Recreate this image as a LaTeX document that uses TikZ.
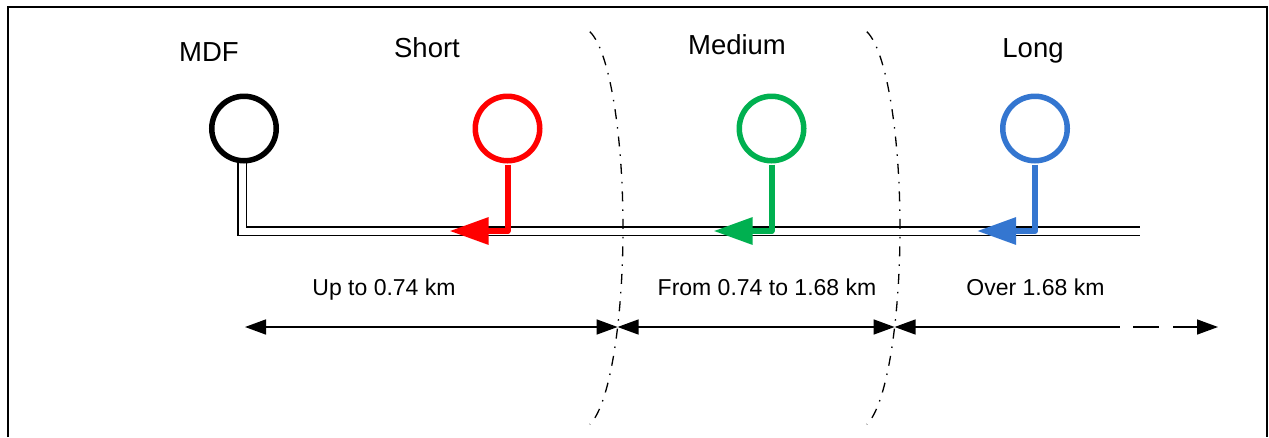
\documentclass[tikz,border=0pt]{standalone}
\usepackage{fontspec}
\setmainfont{Liberation Sans}
\usetikzlibrary{arrows.meta}
\definecolor{cred}{RGB}{255,0,0}
\definecolor{cgreen}{RGB}{0,176,80}
\definecolor{cblue}{RGB}{52,118,208}
\tikzset{
  circ/.style={circle, draw, line width=5.5pt, fill=white, inner sep=0pt, minimum size=64.5pt},
  stem/.style={line width=6pt, line join=round, -{Triangle[length=39pt,width=26pt]}},
  dbl/.style={double, double distance=7pt, line width=1.5pt, line join=miter},
  bound/.style={line width=1.3pt, dash pattern=on 10pt off 8pt on 1.5pt off 8pt},
  dim/.style={line width=1.5pt},
  dtip/.tip={Triangle[length=21pt,width=15pt]},
  toplbl/.style={anchor=base, font=\fontsize{27.5}{30}\selectfont},
  botlbl/.style={anchor=base, font=\fontsize{23}{26}\selectfont},
  frame/.style={line width=2pt}
}
\begin{document}
\begin{tikzpicture}[x=1pt, y=-1pt]
\useasboundingbox (0,0) rectangle (1269,437);
% frame
\draw[frame] (8,437) -- (8,7) -- (1266.5,7) -- (1266.5,437);
% coordinates
\coordinate (mdfbot) at (242,158);
\coordinate (lineend) at (1140,231);
\coordinate (tipS) at (449.5,231);
\coordinate (tipM) at (713.5,231);
\coordinate (tipL) at (977,231);
\coordinate (d0) at (245,327);
\coordinate (d1) at (1120,327);
\coordinate (d2) at (1218,327);
% double cable
\draw[dbl] (mdfbot) |- (lineend);
% circles
\node[circ, draw=black] (mdf) at (244,128.5) {};
\node[circ, draw=cred] (short) at (507.5,128.5) {};
\node[circ, draw=cgreen] (medium) at (771.5,128.5) {};
\node[circ, draw=cblue] (long) at (1035,128.5) {};
\draw[stem, cred] ([yshift=-1pt]short.south) |- (tipS);
\draw[stem, cgreen] ([yshift=-1pt]medium.south) |- (tipM);
\draw[stem, cblue] ([yshift=-1pt]long.south) |- (tipL);
% boundaries
\draw[bound] plot[domain=-79:79, samples=60, smooth] ({582+41*cos(\x)},{228+200*sin(\x)});
\draw[bound] plot[domain=-79:79, samples=60, smooth] ({859+41*cos(\x)},{228+200*sin(\x)});
\coordinate (a1) at (617.6,327);
\coordinate (a2) at (894.6,327);
% labels
\node[toplbl] (lmdf) at (209,61) {MDF};
\node[toplbl] (lshort) at (427,57.5) {Short};
\node[toplbl] (lmed) at (737,54) {Medium};
\node[toplbl] (llong) at (1033,57.5) {Long};
\node[botlbl] (b1) at (384,295) {Up to 0.74 km};
\node[botlbl] (b2) at (767,295) {From 0.74 to 1.68 km};
\node[botlbl] (b3) at (1035.5,295) {Over 1.68 km};
% dimension arrows
\draw[dim, dtip-dtip] (d0) -- (a1);
\draw[dim, dtip-dtip] (a1) -- (a2);
\draw[dim, dtip-] (a2) -- (d1);
\draw[dim, -dtip, dash pattern=on 0pt off 13pt on 26pt off 14pt on 200pt] (d1) -- (d2);
\end{tikzpicture}
\end{document}
